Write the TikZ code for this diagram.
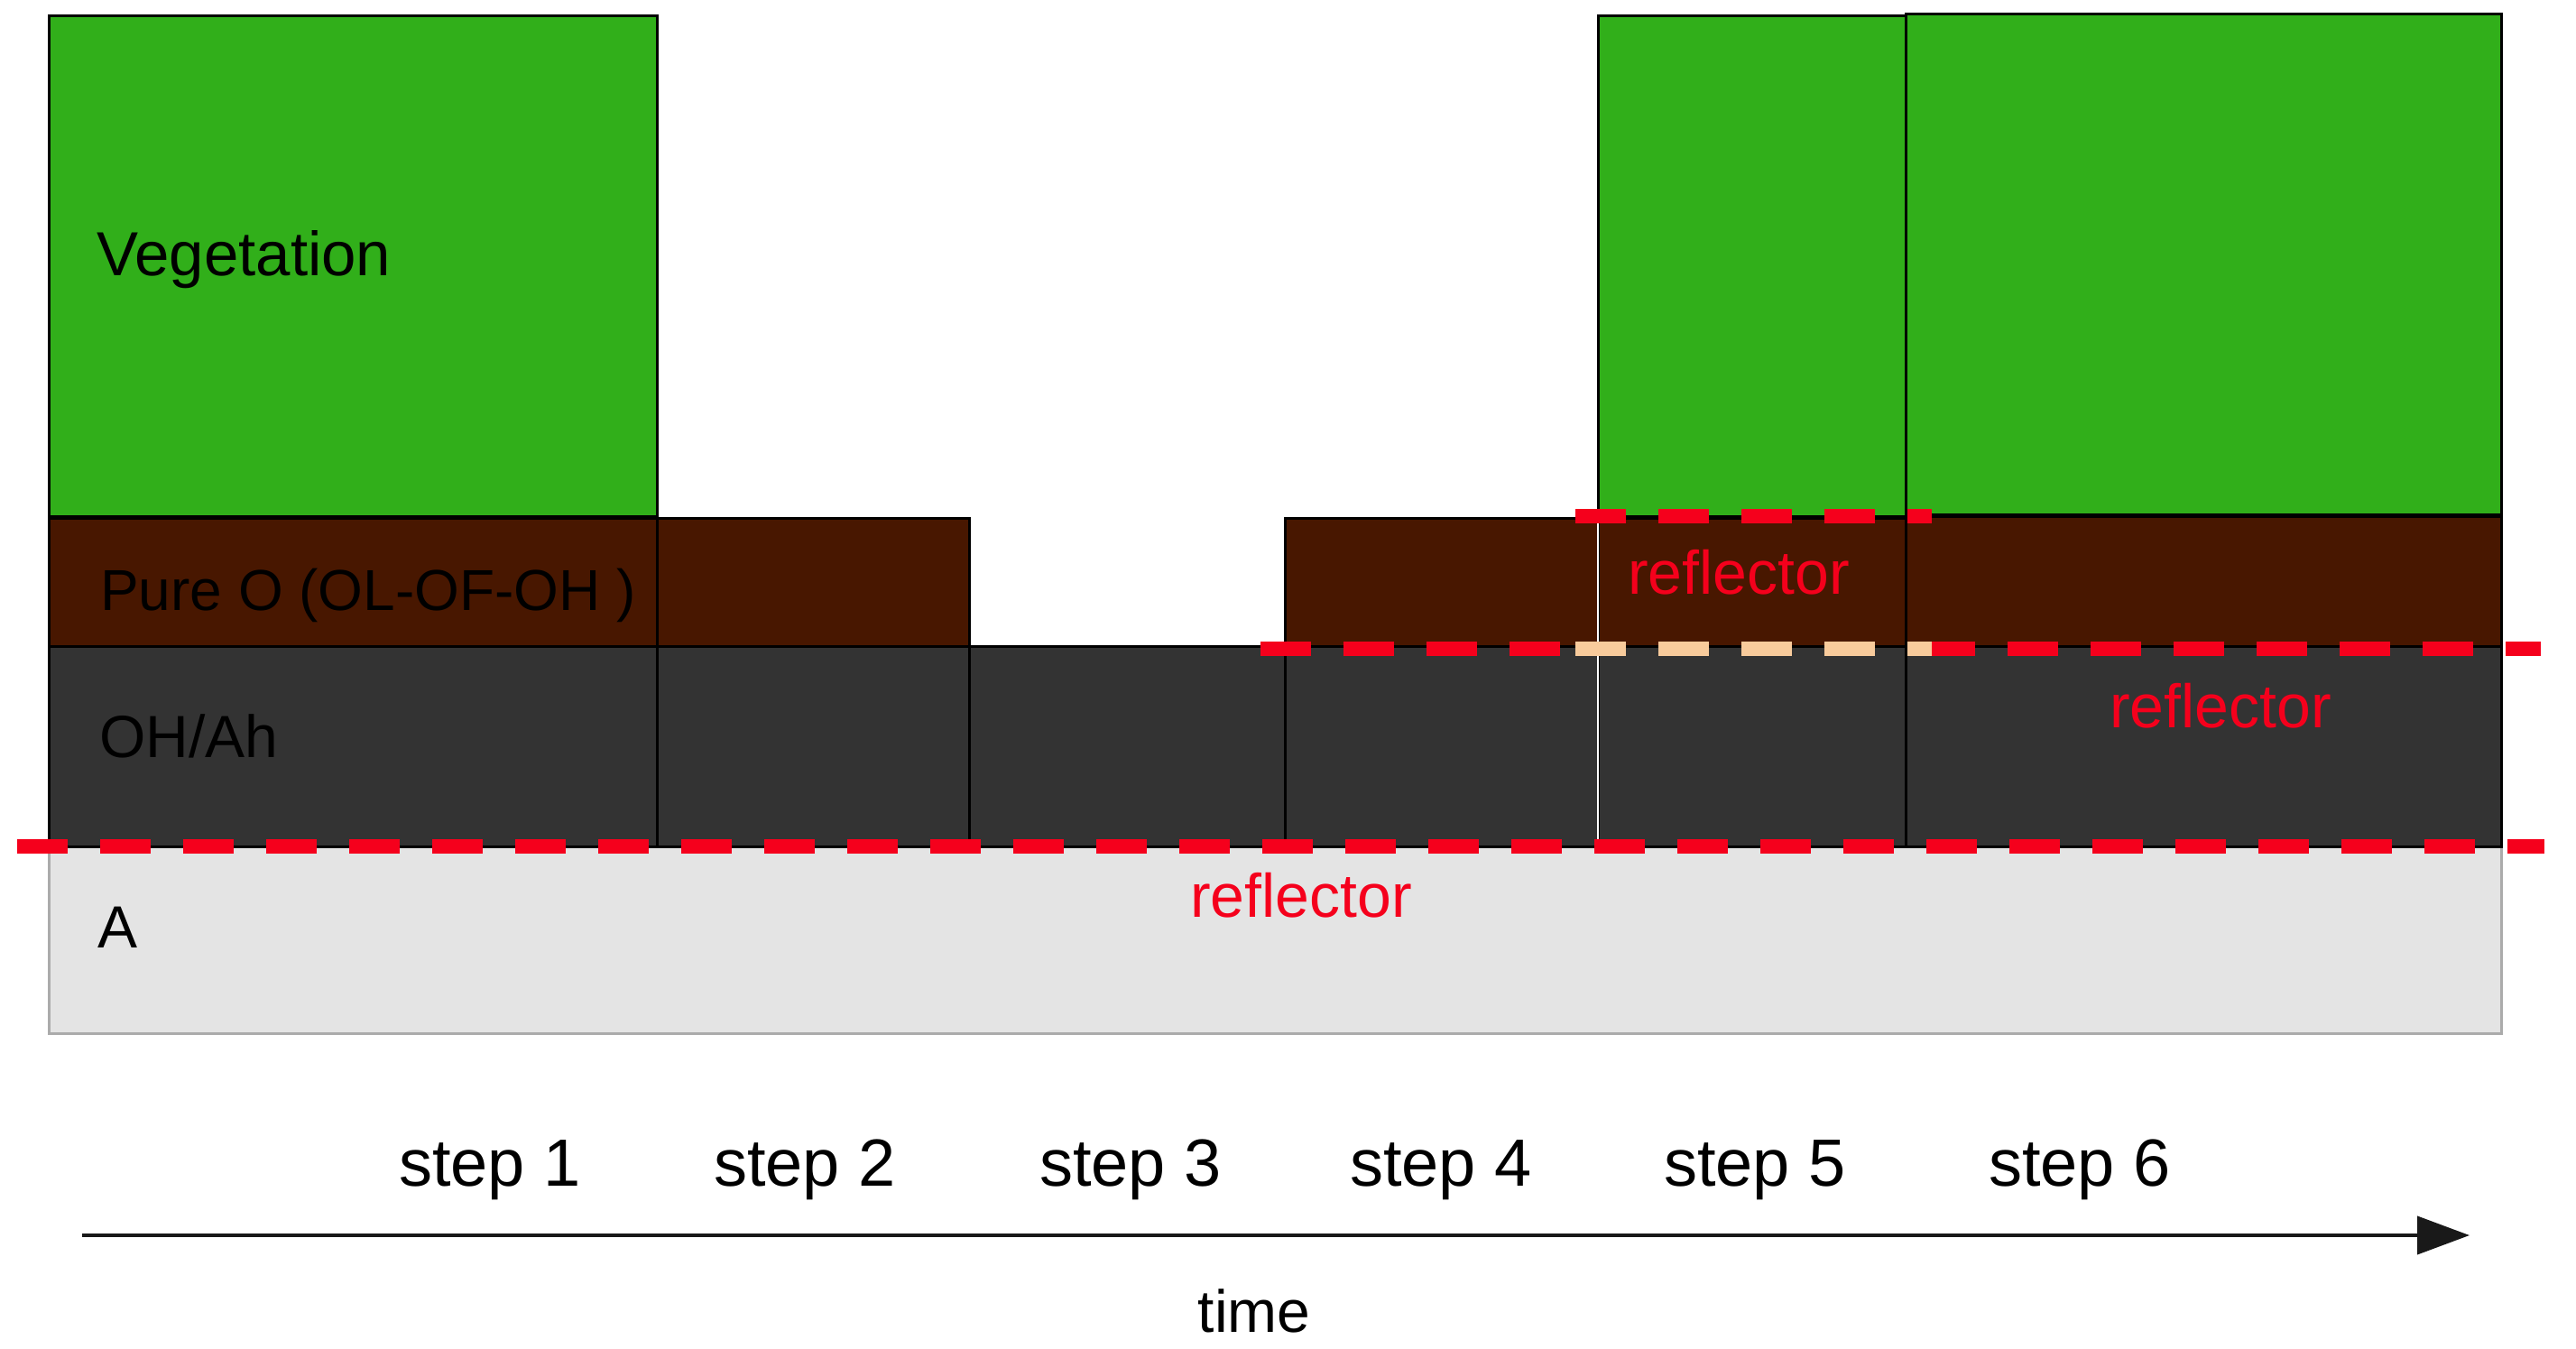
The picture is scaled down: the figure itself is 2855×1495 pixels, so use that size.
\documentclass[tikz,border=0pt]{standalone}
\usepackage{fontspec}
\setmainfont{Liberation Sans}
\usetikzlibrary{arrows.meta}
\definecolor{veg}{HTML}{31AF1A}
\definecolor{pureo}{HTML}{481700}
\definecolor{ohah}{HTML}{333333}
\definecolor{alayer}{HTML}{E4E4E4}
\definecolor{aborder}{HTML}{ABABAB}
\definecolor{refl}{HTML}{F5001C}
\definecolor{peach}{HTML}{F8CB9C}
\begin{document}
\begin{tikzpicture}[x=1pt,y=-1pt,
  layerbox/.style={draw=black, line width=3pt},
  reflline/.style={line width=16pt, dash pattern=on 56pt off 36pt},
  lbl/.style={anchor=base west, inner sep=0pt, font=\fontsize{66}{79}\selectfont},
  refltxt/.style={anchor=base, inner sep=0pt, text=refl, font=\fontsize{68}{80}\selectfont},
  steptxt/.style={anchor=base, inner sep=0pt, font=\fontsize{74}{88}\selectfont}]
\useasboundingbox (0,0) rectangle (2855,1495);
% A layer
\filldraw[fill=alayer, draw=aborder, line width=3pt] (54,938) rectangle (2772,1145);
% vegetation
\filldraw[layerbox, fill=veg] (54,18) rectangle (728,572);
\filldraw[layerbox, fill=veg] (1771,18) rectangle (2112,572);
\filldraw[layerbox, fill=veg] (2112,16) rectangle (2772,570);
% pure O
\filldraw[layerbox, fill=pureo] (54,574) rectangle (728,716);
\filldraw[layerbox, fill=pureo] (728,574) rectangle (1074,716);
\filldraw[layerbox, fill=pureo] (1424,574) rectangle (1771,716);
\filldraw[layerbox, fill=pureo] (1771,574) rectangle (2112,716);
\filldraw[layerbox, fill=pureo] (2112,572) rectangle (2772,716);
% OH/Ah
\filldraw[layerbox, fill=ohah] (54,716) rectangle (728,938);
\filldraw[layerbox, fill=ohah] (728,716) rectangle (1074,938);
\filldraw[layerbox, fill=ohah] (1074,716) rectangle (1424,938);
\filldraw[layerbox, fill=ohah] (1424,716) rectangle (1771,938);
\filldraw[layerbox, fill=ohah] (1771,716) rectangle (2112,938);
\filldraw[layerbox, fill=ohah] (2112,716) rectangle (2772,938);
\draw[white, line width=2.5pt] (1771,576) -- (1771,936);
% reflector lines
\draw[reflline, draw=refl] (19,938) -- (2820,938);
\draw[reflline, draw=refl] (1397,719) -- (1730,719);
\draw[reflline, draw=refl] (2133,719) -- (2816,719);
\draw[reflline, draw=peach] (1746,719) -- (2141,719);
\draw[reflline, draw=refl] (1746,572) -- (2141,572);
% labels
\node[lbl, font=\fontsize{69}{82}\selectfont] (veglbl) at (107,306) {Vegetation};
\node[lbl, font=\fontsize{64}{76}\selectfont] (purelbl) at (111,676) {Pure O (OL-OF-OH )};
\node[lbl] (ohlbl) at (110,839) {OH/Ah};
\node[lbl] (albl) at (108,1050) {A};
\node[refltxt] (refl1) at (1927,658) {reflector};
\node[refltxt] (refl2) at (2461,806) {reflector};
\node[refltxt] (refl3) at (1442,1016) {reflector};
% steps
\node[steptxt] (s1) at (543,1314) {step 1};
\node[steptxt] (s2) at (892,1314) {step 2};
\node[steptxt] (s3) at (1253,1314) {step 3};
\node[steptxt] (s4) at (1597,1314) {step 4};
\node[steptxt] (s5) at (1945,1314) {step 5};
\node[steptxt] (s6) at (2305,1314) {step 6};
% time arrow
\coordinate (tstart) at (91,1369);
\coordinate (tend) at (2737,1369);
\draw[line width=4pt, draw=black!90, -{Triangle[length=58pt,width=42pt]}] (tstart) -- (tend);
\node[anchor=base, inner sep=0pt, font=\fontsize{66}{78}\selectfont] (timelbl) at (1390,1476) {time};
\end{tikzpicture}
\end{document}
